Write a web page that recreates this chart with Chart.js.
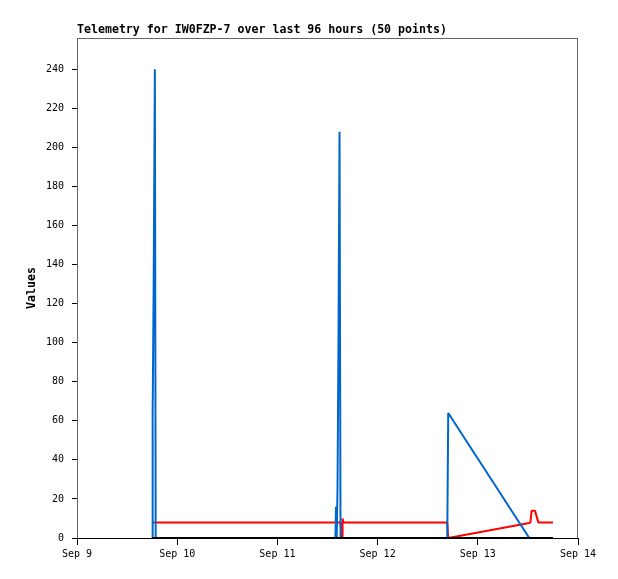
<!DOCTYPE html>
<html>
<head>
<meta charset="utf-8">
<script src="https://cdn.jsdelivr.net/npm/chart.js@4.4.1/dist/chart.umd.min.js"></script>
<style>
    html, body { margin: 0; padding: 0; background: #fff; }
    #wrap { width: 618px; height: 579px; position: relative; }
</style>
</head>
<body>
<div id="wrap"><canvas id="telemetryChart"></canvas></div>
<script>
// Telemetry chart data (hours since Sep 9 00:00)
const chartTitle = 'Telemetry for IW0FZP-7 over last 96 hours (50 points)';
const dayLabels = ['Sep 9', 'Sep 10', 'Sep 11', 'Sep 12', 'Sep 13', 'Sep 14'];
const yTicks = [0, 20, 40, 60, 80, 100, 120, 140, 160, 180, 200, 220, 240];

const hours = [18.0, 18.12, 18.36, 18.65, 18.85, 61.9, 62.04, 62.2, 62.4, 62.64, 62.88, 63.12,
    63.48, 63.6, 63.84, 88.68, 88.92, 108.33, 108.6, 108.9, 109.7, 110.5, 114.0];
const blueValues = [0, 64, 128, 240, 0, 0, 16, 0, 26, 104, 208, 0,
    0, 0, 0, 0, 64, 0, 0, 0, 0, 0, 0];
const redValues = [8, 8, 8, 8, 8, 8, 8, 8, 8, 8, 8, 8,
    0, 10, 8, 8, 0, 7.7, 8, 14, 14, 8, 8];
const blackValues = [0, 0, 0, 0, 0, 0, 0, 0, 0, 0, 0, 0,
    0, 0, 0, 0, 0, 0, 0, 0, 0, 0, 0];

function toPoints(values) {
    return hours.map((h, i) => ({ x: h, y: values[i] }));
}

const monoFont = '"DejaVu Sans Mono", monospace';

// Frame, title and axis title drawn by hand to match the layout
const framePlugin = {
    id: 'frame',
    afterDraw(chart) {
        const { ctx, chartArea } = chart;
        ctx.save();
        ctx.strokeStyle = '#666';
        ctx.lineWidth = 1;
        ctx.strokeRect(chartArea.left + 0.5, chartArea.top + 0.5,
            chartArea.right - chartArea.left - 1, chartArea.bottom - chartArea.top);
        ctx.strokeStyle = '#000';
        ctx.beginPath();
        ctx.moveTo(chartArea.left, chartArea.bottom + 0.5);
        ctx.lineTo(chartArea.right, chartArea.bottom + 0.5);
        ctx.stroke();

        ctx.fillStyle = '#000';
        ctx.font = 'bold 11.6px ' + monoFont;
        ctx.textAlign = 'left';
        ctx.textBaseline = 'alphabetic';
        ctx.fillText(chartTitle, chartArea.left, chartArea.top - 5);

        ctx.translate(35, (chartArea.top + chartArea.bottom) / 2);
        ctx.rotate(-Math.PI / 2);
        ctx.textAlign = 'center';
        ctx.fillText('Values', 0, 0);
        ctx.restore();
    }
};

const lineStyle = {
    borderWidth: 2,
    pointRadius: 0,
    tension: 0,
    fill: false,
    borderJoinStyle: 'bevel'
};

new Chart(document.getElementById('telemetryChart'), {
    type: 'line',
    data: {
        datasets: [
            { label: 'ch3', data: toPoints(blackValues), borderColor: '#000000', ...lineStyle },
            { label: 'ch1', data: toPoints(blueValues), borderColor: '#0066cc', ...lineStyle },
            { label: 'ch2', data: toPoints(redValues), borderColor: '#ff0000', ...lineStyle }
        ]
    },
    options: {
        responsive: true,
        maintainAspectRatio: false,
        animation: false,
        layout: { padding: { left: 0, top: 38, right: 40, bottom: 0 } },
        plugins: {
            legend: { display: false },
            title: { display: false },
            tooltip: { enabled: false }
        },
        scales: {
            x: {
                type: 'linear',
                min: 0,
                max: 120,
                afterBuildTicks: scale => {
                    scale.ticks = dayLabels.map((_, i) => ({ value: i * 24 }));
                },
                afterFit: scale => { scale.height = 41; },
                ticks: {
                    color: '#000',
                    padding: 3,
                    maxRotation: 0,
                    font: { family: monoFont, size: 10 },
                    callback: value => dayLabels[value / 24]
                },
                grid: {
                    drawOnChartArea: false,
                    drawTicks: true,
                    tickLength: 7,
                    color: '#000'
                },
                border: { display: false }
            },
            y: {
                min: 0,
                max: 256,
                afterBuildTicks: scale => {
                    scale.ticks = yTicks.map(v => ({ value: v }));
                },
                afterFit: scale => { scale.width = 77; },
                ticks: {
                    color: '#000',
                    padding: 8,
                    font: { family: monoFont, size: 10 }
                },
                grid: {
                    drawOnChartArea: false,
                    drawTicks: true,
                    tickLength: 5,
                    color: '#000'
                },
                border: { display: false }
            }
        }
    },
    plugins: [framePlugin]
});
</script>
</body>
</html>
